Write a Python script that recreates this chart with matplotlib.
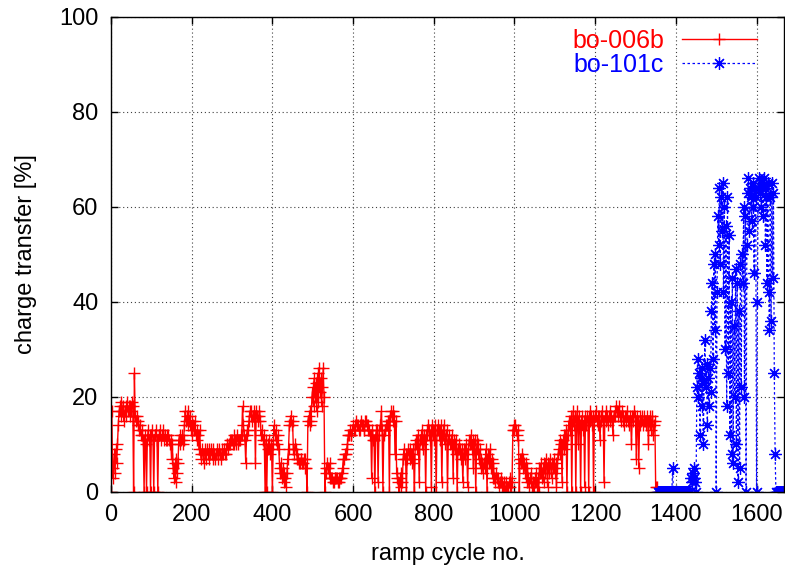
import numpy as np
import matplotlib.pyplot as plt

plt.rcParams['font.family'] = ['Liberation Sans', 'DejaVu Sans']
plt.rcParams['font.size'] = 17

# red series: bo-006b, one value every 2 ramp cycles (0 .. 1354)
red_cycle = np.arange(0, 1356, 2)
red_val = [
    0, 17, 3, 5, 8, 4, 9, 6, 10, 14,
    17, 18, 16, 19, 17, 18, 15, 17, 18, 16,
    19, 17, 18, 16, 18, 17, 19, 18, 0, 25,
    16, 15, 16, 14, 15, 13, 14, 12, 13, 12,
    11, 0, 12, 10, 0, 11, 13, 11, 12, 0,
    12, 13, 11, 0, 12, 12, 13, 11, 0, 12,
    12, 13, 11, 12, 12, 13, 11, 12, 11, 12,
    11, 12, 11, 10, 11, 7, 10, 5, 3, 6,
    2, 7, 4, 6, 11, 12, 10, 11, 12, 10,
    11, 14, 17, 15, 16, 14, 17, 15, 16, 13,
    15, 12, 14, 13, 15, 12, 13, 11, 12, 9,
    13, 8, 7, 9, 8, 6, 9, 8, 7, 9,
    8, 9, 7, 8, 9, 8, 7, 9, 8, 7,
    8, 9, 8, 7, 9, 8, 7, 8, 9, 8,
    9, 8, 8, 9, 10, 9, 10, 11, 10, 11,
    11, 10, 10, 12, 11, 10, 12, 11, 10, 11,
    11, 12, 12, 18, 14, 12, 11, 6, 12, 13,
    13, 15, 17, 16, 17, 15, 16, 17, 16, 6,
    17, 16, 15, 16, 17, 15, 12, 13, 11, 12,
    10, 0, 11, 0, 10, 9, 11, 8, 10, 9,
    0, 10, 14, 12, 13, 11, 10, 12, 9, 5,
    4, 6, 3, 5, 2, 4, 3, 1, 4, 7,
    9, 14, 15, 16, 14, 15, 9, 8, 10, 9,
    8, 7, 7, 6, 6, 7, 7, 6, 6, 7,
    7, 5, 5, 0, 15, 16, 14, 17, 15, 20,
    22, 18, 24, 20, 23, 17, 25, 19, 26, 21,
    24, 18, 22, 26, 20, 0, 5, 4, 6, 5,
    4, 6, 3, 3, 3, 2, 2, 3, 3, 3,
    3, 2, 2, 3, 3, 3, 4, 5, 7, 7,
    8, 8, 9, 10, 12, 12, 13, 12, 12, 13,
    14, 13, 13, 14, 15, 14, 14, 13, 13, 14,
    15, 14, 14, 13, 13, 15, 15, 14, 14, 13,
    13, 12, 12, 3, 13, 11, 11, 0, 12, 13,
    13, 2, 12, 14, 14, 17, 13, 0, 12, 13,
    13, 14, 14, 15, 15, 0, 16, 17, 16, 15,
    17, 16, 8, 15, 4, 3, 2, 0, 3, 1,
    4, 2, 7, 9, 7, 8, 0, 7, 9, 8,
    7, 9, 8, 6, 9, 7, 0, 10, 11, 9,
    12, 10, 2, 11, 12, 10, 13, 9, 12, 11,
    0, 13, 12, 14, 13, 11, 13, 1, 14, 13,
    11, 14, 12, 0, 13, 14, 12, 13, 11, 14,
    2, 13, 12, 14, 10, 12, 13, 0, 11, 12,
    10, 11, 9, 12, 3, 11, 10, 8, 11, 0,
    9, 10, 8, 9, 7, 9, 2, 8, 9, 7,
    10, 8, 1, 9, 11, 10, 12, 9, 11, 5,
    10, 11, 0, 9, 11, 10, 7, 9, 5, 7,
    6, 4, 6, 7, 5, 9, 0, 8, 6, 7,
    9, 5, 7, 3, 6, 3, 2, 4, 3, 2,
    3, 1, 2, 3, 1, 2, 1, 2, 0, 1,
    2, 1, 0, 2, 1, 3, 0, 2, 13, 14,
    13, 14, 13, 12, 13, 11, 0, 7, 6, 8,
    5, 7, 6, 4, 6, 2, 5, 3, 1, 3,
    2, 4, 1, 2, 0, 3, 2, 4, 1, 3,
    0, 5, 4, 6, 3, 5, 2, 6, 4, 7,
    5, 1, 6, 4, 7, 5, 3, 6, 5, 7,
    4, 6, 1, 5, 8, 9, 11, 8, 10, 2,
    11, 9, 12, 10, 13, 0, 12, 14, 15, 13,
    16, 0, 15, 17, 14, 16, 0, 15, 17, 10,
    16, 14, 0, 15, 16, 13, 15, 1, 16, 14,
    16, 15, 0, 17, 15, 16, 14, 16, 0, 15,
    16, 17, 15, 16, 14, 16, 11, 15, 17, 16,
    15, 2, 16, 15, 17, 16, 14, 16, 15, 17,
    16, 15, 12, 16, 17, 16, 18, 17, 16, 18,
    17, 16, 15, 17, 16, 15, 14, 16, 15, 17,
    16, 15, 14, 16, 15, 10, 16, 15, 17, 16,
    15, 7, 16, 15, 5, 14, 16, 15, 16, 14,
    15, 16, 15, 14, 16, 15, 10, 15, 16, 13,
    15, 16, 12, 14, 15, 1, 0, 1,
]

# blue series: bo-101c, one value every 2 ramp cycles (1356 .. 1668)
blue_cycle = np.arange(1356, 1670, 2)
blue_val = [
    0, 0, 0, 0, 0, 0, 0, 0, 0, 0,
    0, 0, 0, 0, 0, 0, 0, 0, 5, 0,
    0, 0, 0, 0, 0, 0, 0, 0, 0, 0,
    0, 0, 0, 0, 0, 0, 0, 0, 0, 0,
    0, 3, 2, 4, 3, 5, 2, 0, 22, 28,
    20, 25, 12, 24, 18, 26, 10, 23, 32, 22,
    27, 14, 24, 18, 26, 21, 38, 44, 28, 48,
    34, 50, 0, 42, 58, 52, 64, 48, 62, 55,
    65, 42, 60, 30, 56, 18, 62, 25, 54, 12,
    40, 8, 45, 6, 35, 20, 47, 10, 44, 2,
    38, 5, 48, 22, 50, 44, 60, 20, 58, 0,
    52, 63, 66, 55, 64, 62, 57, 65, 60, 46,
    64, 62, 0, 40, 64, 66, 63, 65, 60, 64,
    58, 66, 64, 52, 62, 44, 65, 42, 34, 62,
    36, 65, 45, 63, 25, 8, 0, 0, 0, 0,
    0, 0, 0, 0, 0, 0, 0,
]

x_ticks = [0, 200, 400, 600, 800, 1000, 1200, 1400, 1600]
y_ticks = [0, 20, 40, 60, 80, 100]

fig = plt.figure(figsize=(7.85, 5.74), dpi=100)
ax = fig.add_axes([0.1414, 0.1429, 0.8573, 0.8275])

ax.plot(red_cycle, red_val, color='red', lw=1.0, marker='+', ms=9, mew=1.0,
        label='bo-006b')
ax.plot(blue_cycle, blue_val, color='blue', lw=0.9, ls=(0, (2, 2)),
        marker=(8, 2, 0), ms=9, mew=0.9, label='bo-101c')

ax.set_xlim(0, 1668)
ax.set_ylim(0, 100)
ax.set_xticks(x_ticks)
ax.set_yticks(y_ticks)
ax.tick_params(direction='in', top=True, right=True, length=5, width=1, pad=9)
ax.grid(True, color='0.25', ls=(0, (1, 2.5)), lw=0.8)
for s in ax.spines.values():
    s.set_linewidth(1.0)

ax.set_xlabel('ramp cycle no.', labelpad=12)
ax.set_ylabel('charge transfer [%]', labelpad=16)

ax.legend(loc='upper right', bbox_to_anchor=(0.993, 1.022), frameon=False,
          markerfirst=False, labelcolor='linecolor', handlelength=3.0,
          handletextpad=0.7, labelspacing=0.0, numpoints=1, fontsize=18)

fig.savefig('out.png', dpi=100)
